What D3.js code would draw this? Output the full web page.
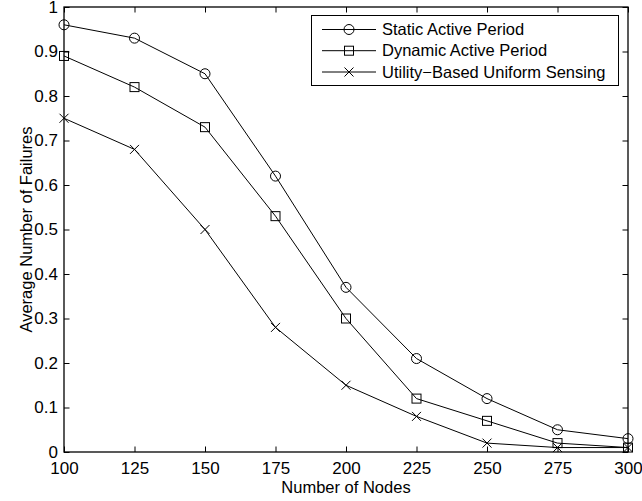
<!DOCTYPE html>
<html><head><meta charset="utf-8">
<script src="https://d3js.org/d3.v7.min.js"></script>
<style>body{margin:0;background:#fff}svg{display:block}text{font-family:"Liberation Sans",Arial,sans-serif;fill:#000}</style>
</head><body>
<script>
const nodes = [100,125,150,175,200,225,250,275,300];
const staticActive = [0.96,0.93,0.85,0.62,0.37,0.21,0.12,0.05,0.03];
const dynamicActive = [0.89,0.82,0.73,0.53,0.30,0.12,0.07,0.02,0.01];
const utilityBased = [0.75,0.68,0.50,0.28,0.15,0.08,0.02,0.01,0.01];
const seriesNames = ["Static Active Period","Dynamic Active Period","Utility\u2212Based Uniform Sensing"];
const markers = ["circle","square","x"];
const xTicks = [100,125,150,175,200,225,250,275,300];
const yTicks = [0,0.1,0.2,0.3,0.4,0.5,0.6,0.7,0.8,0.9,1];
const xLabel = "Number of Nodes", yLabel = "Average Number of Failures";

const W=642,H=501, L=64, R=628, T=7, B=452, fs=16.5, tfs=17;
const svg=d3.select("body").append("svg").attr("width",W).attr("height",H);
const x=d3.scaleLinear().domain([100,300]).range([L,R]);
const y=d3.scaleLinear().domain([0,1]).range([B,T]);
const tl=5.5;
const fmtY = d=> d===0?"0":d===1?"1":d3.format(".1f")(d);

// axes
const gx=svg.append("g").attr("transform",`translate(0,${B})`).call(d3.axisBottom(x).tickValues(xTicks).tickSizeInner(-tl).tickSizeOuter(0).tickPadding(10));
const gxt=svg.append("g").attr("transform",`translate(0,${T})`).call(d3.axisTop(x).tickValues(xTicks).tickSizeInner(-tl).tickSizeOuter(0).tickFormat(""));
const gy=svg.append("g").attr("transform",`translate(${L},0)`).call(d3.axisLeft(y).tickValues(yTicks).tickSizeInner(-tl).tickSizeOuter(0).tickPadding(6).tickFormat(fmtY));
const gyr=svg.append("g").attr("transform",`translate(${R},0)`).call(d3.axisRight(y).tickValues(yTicks).tickSizeInner(-tl).tickSizeOuter(0).tickFormat(""));
[gx,gxt,gy,gyr].forEach(g=>{g.select(".domain").remove();g.selectAll("line").attr("stroke","#000").attr("stroke-width",1);g.selectAll("text").attr("font-size",tfs).attr("font-family","Liberation Sans, Arial, sans-serif");});
svg.append("rect").attr("x",L).attr("y",T).attr("width",R-L).attr("height",B-T).attr("fill","none").attr("stroke","#000").attr("stroke-width",1.3);

const data=[staticActive,dynamicActive,utilityBased];
const line=d3.line().x((d,i)=>x(nodes[i])).y(d=>y(d));
function marker(g,type,cx,cy){
  if(type==="circle") g.append("circle").attr("cx",cx).attr("cy",cy).attr("r",5).attr("fill","none").attr("stroke","#000").attr("stroke-width",1);
  else if(type==="square") g.append("rect").attr("x",cx-4.5).attr("y",cy-4.5).attr("width",9).attr("height",9).attr("fill","none").attr("stroke","#000").attr("stroke-width",1);
  else g.append("path").attr("d",`M${cx-4.5},${cy-4.5}L${cx+4.5},${cy+4.5}M${cx-4.5},${cy+4.5}L${cx+4.5},${cy-4.5}`).attr("stroke","#000").attr("stroke-width",1);
}
data.forEach((s,k)=>{
  svg.append("path").datum(s).attr("d",line).attr("fill","none").attr("stroke","#000").attr("stroke-width",1);
  const g=svg.append("g");
  s.forEach((v,i)=>marker(g,markers[k],x(nodes[i]),y(v)));
});

// legend
const lg=svg.append("g");
lg.append("rect").attr("x",311.5).attr("y",15.5).attr("width",307).attr("height",70).attr("fill","#fff").attr("stroke","#000").attr("stroke-width",1);
const rows=[29.5,50.7,72];
seriesNames.forEach((n,k)=>{
  lg.append("line").attr("x1",322).attr("x2",376).attr("y1",rows[k]).attr("y2",rows[k]).attr("stroke","#000").attr("stroke-width",1);
  marker(lg,markers[k],349,rows[k]);
  lg.append("text").attr("x",382).attr("y",rows[k]).attr("dy","0.35em").attr("font-size",fs).text(n);
});

svg.append("text").attr("x",(L+R)/2).attr("y",493).attr("text-anchor","middle").attr("font-size",fs).text(xLabel);
svg.append("text").attr("transform",`translate(32,${(T+B)/2}) rotate(-90)`).attr("text-anchor","middle").attr("font-size",fs).text(yLabel);
</script>
</body></html>
